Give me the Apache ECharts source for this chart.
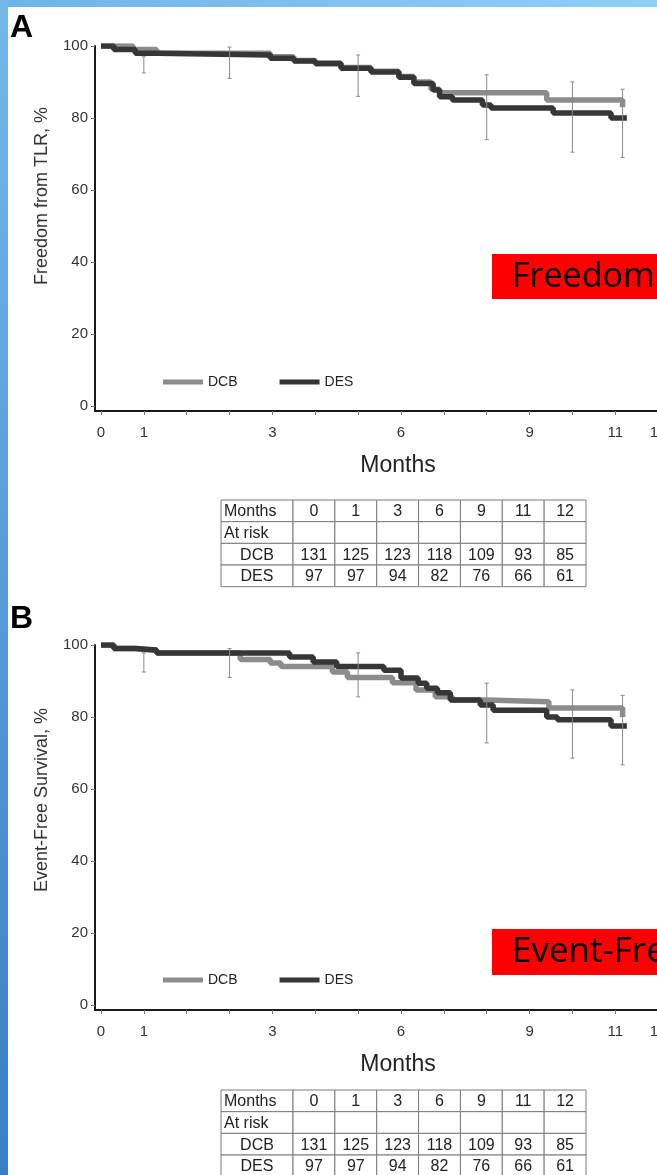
<!DOCTYPE html>
<html><head><meta charset="utf-8">
<script src="https://cdn.jsdelivr.net/npm/echarts@6/dist/echarts.min.js"></script>
<style>html,body{margin:0;padding:0;background:#fff;}#c{width:657px;height:1175px;}</style>
</head><body><div id="c"></div>
<script>
// ---- axis ticks / labels ----
const xTickValues = [0,1,2,3,4,5,6,7,8,9,10,11,12,13];
const xLabelValues = [0,1,4,7,10,12,13];
const xLabelTexts = ['0','1','3','6','9','11','12'];
const yTickValues = [0,20,40,60,80,100];

// ---- Panel A: Freedom from TLR (time, survival %) ----
const dcbA = [[0,100],[0.75,99],[1.3,98],[3.95,97],[4.5,96],[5.0,95],[5.6,94],[6.3,93],[6.95,91.5],[7.3,90],[7.7,88],[7.9,87],[10.4,85],[12.17,83]];
const desA = [[0,100],[0.3,99],[0.8,98],[1.3,97.5],[3.95,96.6],[4.5,95.8],[5.0,95.2],[5.6,93.8],[6.3,92.8],[6.95,91.3],[7.3,89.6],[7.75,87.8],[7.9,85.9],[8.2,85],[8.9,83.6],[9.1,82.8],[10.55,81.4],[11.9,80],[12.27,80]];
const ciA = [[1,92.5,97],[3,91,99.7],[6,86,97.5],[9,74,92],[11,70.5,90],[12.17,69,88]];

// ---- Panel B: Event-free survival ----
const dcbB = [[0,100],[0.3,99],[0.8,98.5],[1.3,97.8],[3.25,96],[3.95,95],[4.2,94],[5.4,92.5],[5.75,91],[6.8,89.5],[7.35,87.5],[7.8,85.6],[8.2,84.7],[9.0,84.2],[10.45,82.5],[12.17,80]];
const desB = [[0,100],[0.3,99],[0.8,98.6],[1.3,97.8],[4.4,96.7],[4.95,95.3],[5.5,94],[6.6,93],[7.0,90.8],[7.4,89.4],[7.6,88],[7.85,86.7],[8.15,84.7],[8.85,83.3],[9.15,81.9],[10.4,80],[10.65,79.2],[11.9,77.5],[12.27,77.5]];
const ciB = [[1,92.5,97.8],[3,91,99],[6,85.6,97.8],[9,72.8,89.4],[11,68.6,87.5],[12.17,66.7,86]];

// ---- Number at risk table ----
const tableCols = ['0','1','3','6','9','11','12'];
const tableRows = ['Months','At risk','DCB','DES'];
const riskDCB = [131,125,123,118,109,93,85];
const riskDES = [97,97,94,82,76,66,61];

const FONT = 'Arial, "Liberation Sans", sans-serif';
const DCB_COLOR = '#8c8c8c';
const DES_COLOR = '#363636';

const chart = echarts.init(document.getElementById('c'), null, {renderer:'canvas'});

function mkX(gi){
  return {type:'value', gridIndex:gi, min:-0.14, max:14,
    axisLine:{show:true, onZero:false, lineStyle:{color:'#1a1a1a', width:2}},
    axisTick:{show:true, customValues:xTickValues, length:4, lineStyle:{color:'#777', width:1}},
    axisLabel:{customValues:xLabelValues, formatter:v=>xLabelTexts[xLabelValues.indexOf(v)], margin:14, color:'#333', fontSize:15, fontFamily:FONT},
    splitLine:{show:false},
    name:'Months', nameLocation:'middle', nameGap:43, nameTextStyle:{fontSize:23, color:'#222', fontFamily:FONT}};
}
function mkY(gi){
  return {type:'value', gridIndex:gi, min:-1.4, max:100,
    axisLine:{show:true, onZero:false, lineStyle:{color:'#1a1a1a', width:2}},
    axisTick:{show:true, customValues:yTickValues, length:4, lineStyle:{color:'#777', width:1}},
    axisLabel:{customValues:yTickValues, margin:7, color:'#333', fontSize:15, fontFamily:FONT},
    splitLine:{show:false}};
}
function lineSeries(name, data, color, xi){
  return {type:'line', name, data, xAxisIndex:xi, yAxisIndex:xi, step:'end', showSymbol:false, symbol:'none',
    lineStyle:{color, width:5.5}, itemStyle:{color}, z: name==='DES'?4:3, animation:false};
}
function ciRender(params, api){
  const x = api.value(0);
  const lo = api.coord([x, api.value(1)]);
  const hi = api.coord([x, api.value(2)]);
  const cap = 2, st = {stroke:'#8a8a8a', lineWidth:1};
  return {type:'group', children:[
    {type:'line', shape:{x1:lo[0],y1:lo[1],x2:hi[0],y2:hi[1]}, style:st},
    {type:'line', shape:{x1:lo[0]-cap,y1:lo[1],x2:lo[0]+cap,y2:lo[1]}, style:st},
    {type:'line', shape:{x1:hi[0]-cap,y1:hi[1],x2:hi[0]+cap,y2:hi[1]}, style:st}
  ]};
}
function ciSeries(data, xi){
  return {type:'custom', data, xAxisIndex:xi, yAxisIndex:xi, renderItem:ciRender, encode:{x:0, y:[1,2]}, z:5, silent:true, animation:false};
}
function valueText(col,row){
  if(row===0) return tableCols[col];
  if(row===1) return '';
  if(row===2) return String(riskDCB[col]);
  return String(riskDES[col]);
}
function cellRender(isLabel){
  return function(params, api){
    const col = api.value(0), row = api.value(1);
    const c = api.coord([col,row]); const s = api.size([1,1]);
    const text = isLabel ? tableRows[row] : valueText(col,row);
    const left = isLabel && row < 2;
    return {type:'group', children:[
      {type:'rect', shape:{x:c[0]-s[0]/2, y:c[1]-s[1]/2, width:s[0], height:s[1]}, style:{fill:'#fff', stroke:'#7a7a7a', lineWidth:1}},
      {type:'text', style:{text, x: left ? c[0]-s[0]/2+3 : c[0], y:c[1]+1, align: left?'left':'center', verticalAlign:'middle', font:'16px '+FONT, fill:'#222'}}
    ]};
  };
}
function cellData(nCols){ const d=[]; for(let r=0;r<tableRows.length;r++) for(let c=0;c<nCols;c++) d.push([c,r]); return d; }
function tableAxes(gi, cats){
  return [{type:'category', gridIndex:gi, data:cats, show:false},
          {type:'category', gridIndex:gi, data:tableRows, inverse:true, show:false}];
}

const G = {outerBoundsMode:'none', containLabel:false};
const grids = [
  Object.assign({left:95, top:46, width:606, height:365}, G),
  Object.assign({left:95, top:645, width:606, height:365}, G),
  Object.assign({left:221, top:500, width:72, height:86.7}, G),
  Object.assign({left:293, top:500, width:293, height:86.7}, G),
  Object.assign({left:221, top:1090, width:72, height:86.7}, G),
  Object.assign({left:293, top:1090, width:293, height:86.7}, G)
];
const xAxes = [mkX(0), mkX(1)];
const yAxes = [mkY(0), mkY(1)];
[[2,['lbl']],[3,tableCols],[4,['lbl']],[5,tableCols]].forEach(([gi,cats])=>{
  const [xa, ya] = tableAxes(gi, cats); xAxes.push(xa); yAxes.push(ya);
});

const series = [
  lineSeries('DCB', dcbA, DCB_COLOR, 0), lineSeries('DES', desA, DES_COLOR, 0), ciSeries(ciA, 0),
  lineSeries('DCB', dcbB, DCB_COLOR, 1), lineSeries('DES', desB, DES_COLOR, 1), ciSeries(ciB, 1),
  {type:'custom', xAxisIndex:2, yAxisIndex:2, data:cellData(1), renderItem:cellRender(true), silent:true, animation:false},
  {type:'custom', xAxisIndex:3, yAxisIndex:3, data:cellData(7), renderItem:cellRender(false), silent:true, animation:false},
  {type:'custom', xAxisIndex:4, yAxisIndex:4, data:cellData(1), renderItem:cellRender(true), silent:true, animation:false},
  {type:'custom', xAxisIndex:5, yAxisIndex:5, data:cellData(7), renderItem:cellRender(false), silent:true, animation:false}
];

function legend(top){
  return {left:158, top, orient:'horizontal', itemWidth:40, itemHeight:5, itemGap:42, icon:'rect',
    data:['DCB','DES'], textStyle:{fontSize:14, color:'#222', fontFamily:FONT}, selectedMode:false};
}

const graphic = [
  {type:'rect', shape:{x:0,y:0,width:657,height:7}, style:{fill:new echarts.graphic.LinearGradient(0,0,1,0,[{offset:0,color:'#6fb4e8'},{offset:1,color:'#8fd0f8'}])}, z:100},
  {type:'rect', shape:{x:0,y:0,width:8,height:1175}, style:{fill:new echarts.graphic.LinearGradient(0,0,0,1,[{offset:0,color:'#74b8ea'},{offset:1,color:'#3a7ec4'}])}, z:100},
  {type:'text', x:10, y:12, style:{text:'A', font:'bold 32px '+FONT, fill:'#000', verticalAlign:'top'}},
  {type:'text', x:10, y:603, style:{text:'B', font:'bold 32px '+FONT, fill:'#000', verticalAlign:'top'}},
  {type:'text', x:42, y:196, rotation:Math.PI/2, style:{text:'Freedom from TLR, %', font:'18px '+FONT, fill:'#333', align:'center', verticalAlign:'middle'}},
  {type:'text', x:42, y:800, rotation:Math.PI/2, style:{text:'Event-Free Survival, %', font:'18px '+FONT, fill:'#333', align:'center', verticalAlign:'middle'}},
  {type:'rect', shape:{x:492,y:254,width:200,height:45}, style:{fill:'#ff0000'}, z:50},
  {type:'text', x:512, y:277, style:{text:'Freedom from TLR', font:'34px "Open Sans", sans-serif', fill:'#000', verticalAlign:'middle'}, z:51},
  {type:'rect', shape:{x:492,y:929,width:200,height:46}, style:{fill:'#ff0000'}, z:50},
  {type:'text', x:512, y:952, style:{text:'Event-Free Survival', font:'35px "Open Sans", sans-serif', fill:'#000', verticalAlign:'middle'}, z:51}
];

chart.setOption({
  animation:false,
  backgroundColor:'#fff',
  grid:grids, xAxis:xAxes, yAxis:yAxes,
  legend:[legend(370), legend(968)],
  series, graphic
});
</script></body></html>
